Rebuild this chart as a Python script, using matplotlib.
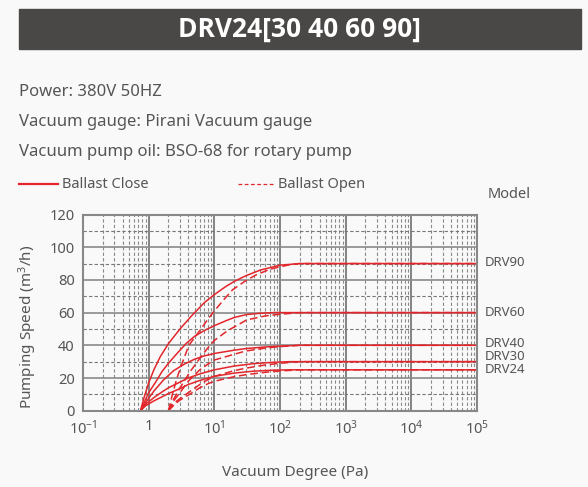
import numpy as np
import matplotlib
matplotlib.use("Agg")
import matplotlib.pyplot as plt
from matplotlib.ticker import FixedLocator, LogLocator, NullFormatter

plt.rcParams['font.family'] = ['Noto Sans', 'DejaVu Sans']
plt.rcParams['mathtext.fontset'] = 'custom'
plt.rcParams['mathtext.rm'] = 'Noto Sans'
plt.rcParams['mathtext.it'] = 'Noto Sans'

# models and label heights
models = ["DRV90", "DRV60", "DRV40", "DRV30", "DRV24"]
label_y = [90.5, 60, 40.8, 33, 25.3]

# ballast close (solid) curves: pressure (Pa) / speed (m3/h)
close_x = {
    "DRV90": [0.75, 0.85, 1.0, 1.2, 1.5, 2, 3, 4.5, 7, 10, 15, 20, 30, 50, 100, 200, 1e5],
    "DRV60": [0.75, 0.9, 1.0, 1.3, 1.6, 2, 2.7, 3.7, 5, 7, 10, 15, 20, 31, 50, 80, 1e5],
    "DRV40": [0.75, 0.9, 1.2, 1.7, 2.4, 3.5, 5, 7, 10, 20, 30, 60, 100, 200, 1e5],
    "DRV30": [0.75, 0.9, 1.2, 1.6, 2, 3, 4, 6, 10, 20, 40, 80, 140, 1e5],
    "DRV24": [0.75, 0.9, 1.2, 1.6, 2, 3, 4, 6, 10, 20, 40, 80, 140, 1e5],
}
close_y = {
    "DRV90": [0, 8, 17, 25, 33, 41, 50, 58, 66, 71, 76, 79, 82.5, 86, 89, 90, 90],
    "DRV60": [0, 7, 11, 18, 24, 29, 35, 41, 45.5, 49, 52, 55, 57, 58.8, 59.6, 60, 60],
    "DRV40": [0, 5, 12, 19, 24.5, 28.5, 31.5, 33.5, 35, 37, 38, 39, 39.5, 40, 40],
    "DRV30": [0, 4, 8, 11.5, 14, 17.5, 20, 22.5, 25, 27.3, 28.8, 29.6, 30, 30],
    "DRV24": [0, 3, 6, 8.5, 10.5, 13.5, 16, 18.5, 21, 23, 24.2, 24.8, 25, 25],
}

# ballast open (dashed) curves
open_x = {
    "DRV90": [2, 2.3, 2.7, 3.3, 4.1, 6, 8, 10, 14, 19, 30, 43, 70, 100, 150, 200, 1e5],
    "DRV60": [2, 2.4, 3, 4.3, 6, 8, 10, 16, 31, 60, 100, 200, 1e5],
    "DRV40": [2, 2.5, 3, 4, 6, 8, 10, 20, 30, 60, 100, 200, 1e5],
    "DRV30": [2, 2.5, 3, 4, 6, 8, 10, 20, 30, 60, 100, 200, 1e5],
    "DRV24": [2, 2.5, 3, 4, 6, 8, 10, 20, 30, 60, 100, 200, 1e5],
}
open_y = {
    "DRV90": [0, 10, 20, 30, 40, 49, 56, 61, 68, 74, 79.5, 83, 86.5, 88, 89.5, 90, 90],
    "DRV60": [0, 7, 14, 24, 32, 38.5, 43, 49, 55.5, 58, 59, 60, 60],
    "DRV40": [0, 7, 11, 18, 25, 28.5, 31, 34.5, 36.5, 38.3, 39.2, 40, 40],
    "DRV30": [0, 5, 7.5, 11, 16, 19, 21, 24.5, 26, 28, 29, 30, 30],
    "DRV24": [0, 4, 6.5, 9.5, 14, 16.5, 18, 20.8, 22, 23.5, 24.3, 25, 25],
}

bg = "#f9f9f9"
txt = "#555555"
red = "#e3262b"

fig = plt.figure(figsize=(5.88, 4.87), dpi=100, facecolor=bg)

# title bar
fig.patches.append(plt.Rectangle((19 / 588, 1 - 49 / 487), 562 / 588, 40 / 487,
                                 transform=fig.transFigure, color="#4a4846"))
fig.text(300 / 588, 1 - 29 / 487, "DRV24[30 40 60 90]", color="white", fontsize=19,
         fontweight="bold", family=["Open Sans", "DejaVu Sans"], ha="center", va="center")

fig.text(19 / 588, 1 - 92 / 487, "Power: 380V 50HZ", color=txt, fontsize=12, va="center")
fig.text(19 / 588, 1 - 122 / 487, "Vacuum gauge: Pirani Vacuum gauge", color=txt, fontsize=12, va="center")
fig.text(19 / 588, 1 - 152 / 487, "Vacuum pump oil: BSO-68 for rotary pump", color=txt, fontsize=12, va="center")

# legend row
ly = 1 - 184 / 487
fig.lines.append(plt.Line2D([19 / 588, 58 / 588], [ly, ly], transform=fig.transFigure,
                            color=red, lw=1.6))
fig.text(62 / 588, ly, "Ballast Close", color=txt, fontsize=10.5, va="center")
fig.lines.append(plt.Line2D([238 / 588, 275 / 588], [ly, ly], transform=fig.transFigure,
                            color=red, lw=0.9, dashes=(3, 2)))
fig.text(278 / 588, ly, "Ballast Open", color=txt, fontsize=10.5, va="center")
fig.text(488 / 588, 1 - 195 / 487, "Model", color=txt, fontsize=10.5, va="center")

ax = fig.add_axes([83 / 588, 1 - 410.7 / 487, 394 / 588, 196.2 / 487])
ax.set_facecolor(bg)
ax.set_xscale("log")
ax.set_xlim(0.1, 1e5)
ax.set_ylim(0, 120)

ax.xaxis.set_minor_locator(LogLocator(base=10, subs=np.arange(2, 10), numticks=20))
ax.xaxis.set_minor_formatter(NullFormatter())
ax.yaxis.set_major_locator(FixedLocator([0, 20, 40, 60, 80, 100, 120]))
ax.yaxis.set_minor_locator(FixedLocator([10, 30, 50, 70, 90, 110]))

xt = [0.1, 1, 10, 100, 1e3, 1e4, 1e5]
ax.set_xticks(xt)
ax.set_xticklabels([r"$10^{-1}$", "1", r"$10^{1}$", r"$10^{2}$", r"$10^{3}$", r"$10^{4}$", r"$10^{5}$"])

ax.grid(True, which="major", axis="y", color="#8a8a8a", lw=1.2, ls="-")
ax.grid(True, which="minor", axis="y", color="#777777", lw=0.8, ls=(0, (3, 2)))
ax.grid(True, which="major", axis="x", color="#707070", lw=1.2, ls="-")
ax.grid(True, which="minor", axis="x", color="#8a8a8a", lw=0.8, ls=(0, (3, 2)))
ax.set_axisbelow(True)

ax.tick_params(which="both", length=0, labelsize=10.5, labelcolor=txt, pad=6)
for s in ax.spines.values():
    s.set_color("#888888")
    s.set_linewidth(1.5)

for m, yl in zip(models, label_y):
    ax.plot(close_x[m], close_y[m], color=red, lw=1.1)
    ax.plot(open_x[m], open_y[m], color=red, lw=1.1, dashes=(5, 2.5))
    ax.text(1.02, yl / 120, m, transform=ax.transAxes, color=txt, fontsize=9.5, va="center")

fig.text(28 / 588, 1 - 327 / 487, r"Pumping Speed (m$^3$/h)", color=txt, fontsize=11,
         rotation=90, ha="center", va="center")
fig.text(295 / 588, 1 - 472 / 487, "Vacuum Degree (Pa)", color=txt, fontsize=11,
         ha="center", va="center")

fig.savefig("out.png", dpi=100, facecolor=bg)
